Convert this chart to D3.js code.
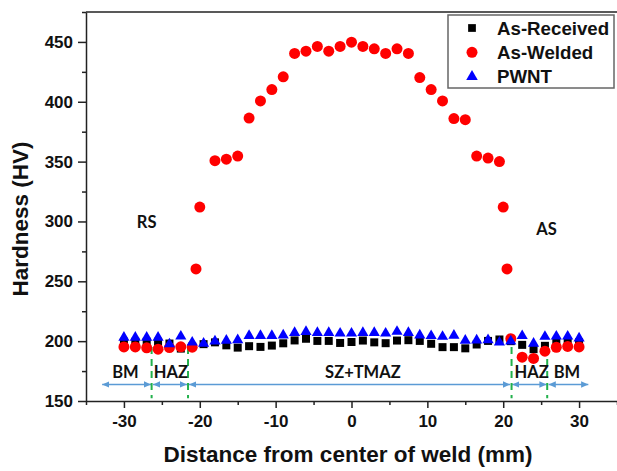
<!DOCTYPE html>
<html>
<head>
<meta charset="utf-8">
<script src="https://cdnjs.cloudflare.com/ajax/libs/d3/7.8.5/d3.min.js"></script>
<style>
body { margin: 0; background: #fff; }
svg { display: block; font-family: "Liberation Sans", Arial, sans-serif; }
</style>
</head>
<body>
<script>
// measurement positions (mm from weld centre)
var distance = [-30, -28.5, -27, -25.5, -24, -22.5, -21, -19.5, -18, -16.5, -15, -13.5, -12, -10.5, -9, -7.5, -6, -4.5, -3, -1.5,
    0, 1.5, 3, 4.5, 6, 7.5, 9, 10.5, 12, 13.5, 15, 16.5, 18, 19.5, 21, 22.5, 24, 25.5, 27, 28.5, 30];

var asReceived = [199.5, 199.5, 199.5, 199.5, 198, 193.8, 195.5, 197.5, 199, 196.5, 194.6, 195.8, 195.2, 196.3, 198.2, 200.6, 202, 200.2, 200.2, 198.5,
    199.3, 200.5, 199, 198.3, 200.5, 200.8, 200.2, 197.8, 195, 195, 194, 197.2, 200.2, 201.4, 200, 196.9, 193.3, 196.1, 199, 199, 199];

var pwnt = [203, 203, 203, 203, 197.5, 204, 199, 198, 200, 200.5, 201, 204.5, 204.5, 204.5, 205, 207, 207.8, 207, 207, 206.5,
    206.5, 207, 207, 206.5, 208, 207, 205, 204.4, 203.8, 204.8, 200.5, 200.8, 201, 199, 200, 204.4, 198, 203.8, 204, 204, 202.5];

var weldedX = [-30, -28.5, -27, -25.5, -24, -22.5, -21, -20.5, -20, -18, -16.5, -15, -13.5, -12, -10.5, -9, -7.5, -6, -4.5, -3, -1.5,
    0, 1.5, 3, 4.5, 6, 7.5, 9, 10.5, 12, 13.5, 15, 16.5, 18, 19.5, 20, 20.5, 21, 22.5, 24, 25.5, 27, 28.5, 30];
var weldedY = [195.2, 195.2, 194.4, 193.3, 194.6, 195.3, 195, 260.3, 312, 350.8, 352, 354.6, 386.4, 400.7, 410.2, 420.8, 440.4, 442.3, 446.2, 442.3, 446.2,
    449.8, 446.2, 444.2, 440.4, 444.2, 440.4, 420.2, 410.2, 400.7, 386, 385, 354.6, 353, 350, 312, 260.3, 202, 186.6, 185.6, 191.6, 194.9, 195.6, 195.2];

var xTicks = [-30, -20, -10, 0, 10, 20, 30];
var xMinor = [-35, -25, -15, -5, 5, 15, 25, 35];
var yTicks = [150, 200, 250, 300, 350, 400, 450];
var yMinor = [175, 225, 275, 325, 375, 425, 475];

// zone annotations
var zoneEdges = [-33, -26.3, -21.55, 21.05, 25.85, 31.35];
var zoneDividers = [-26.35, -21.55, 21.1, 25.8];
var zoneNames = ["BM", "HAZ", "SZ+TMAZ", "HAZ", "BM"];
var zoneLabelX = [-29.8, -23.8, 1.5, 23.75, 28.4];
var sideNames = ["RS", "AS"];
var sideX = [-27, 25.7];
var sideY = [299.8, 293.5];

var seriesNames = ["As-Received", "As-Welded", "PWNT"];
var seriesColors = ["#000000", "#ff0000", "#0000ff"];

var width = 617, height = 471;

var svg = d3.select("body").append("svg")
    .attr("width", width)
    .attr("height", height);

var x = d3.scaleLinear().domain([-35, 35]).range([86, 617]);
var y = d3.scaleLinear().domain([150, 475]).range([401, 12]);

// frame top
svg.append("line")
    .attr("x1", x(-35)).attr("x2", x(35))
    .attr("y1", y(475)).attr("y2", y(475))
    .style("stroke", "#222").style("stroke-width", 1.5);

var plainNum = (d) => String(d); // hyphen minus like the original

// x axis
svg.append("g")
    .attr("transform", "translate(0," + y(150) + ")")
    .call(d3.axisBottom(x).tickValues(xTicks).tickFormat(plainNum).tickSize(7).tickSizeOuter(0).tickPadding(7));
svg.append("g")
    .attr("transform", "translate(0," + y(150) + ")")
    .call(d3.axisBottom(x).tickValues(xMinor).tickSize(4).tickFormat("").tickSizeOuter(0))
    .select(".domain").remove();

// y axis
svg.append("g")
    .attr("transform", "translate(" + x(-35) + ",0)")
    .call(d3.axisLeft(y).tickValues(yTicks).tickFormat(plainNum).tickSize(8).tickSizeOuter(0).tickPadding(5));
svg.append("g")
    .attr("transform", "translate(" + x(-35) + ",0)")
    .call(d3.axisLeft(y).tickValues(yMinor).tickSize(4).tickFormat("").tickSizeOuter(0))
    .select(".domain").remove();

svg.selectAll(".domain, .tick line").style("stroke", "#222").style("stroke-width", 1.5);
svg.selectAll(".tick text")
    .style("font-family", "Liberation Sans, Arial, sans-serif")
    .style("font-size", "17px")
    .style("font-weight", "bold")
    .style("fill", "#111");

// axis titles
svg.append("text")
    .attr("x", 348).attr("y", 462)
    .attr("text-anchor", "middle")
    .style("font-size", "22.5px").style("font-weight", "bold").style("fill", "#111")
    .text("Distance from center of weld (mm)");

svg.append("text")
    .attr("transform", "translate(28,219) rotate(-90)")
    .attr("text-anchor", "middle")
    .style("font-size", "22.5px").style("font-weight", "bold").style("fill", "#111")
    .text("Hardness (HV)");

// zone arrows
var defs = svg.append("defs");
defs.append("marker")
    .attr("id", "arrowEnd")
    .attr("viewBox", "0 0 10 10").attr("refX", 9).attr("refY", 5)
    .attr("markerWidth", 5).attr("markerHeight", 5)
    .attr("orient", "auto")
    .append("path").attr("d", "M0,1 L9,5 L0,9 Z").style("fill", "#5b9bd5");
defs.append("marker")
    .attr("id", "arrowStart")
    .attr("viewBox", "0 0 10 10").attr("refX", 1).attr("refY", 5)
    .attr("markerWidth", 5).attr("markerHeight", 5)
    .attr("orient", "auto")
    .append("path").attr("d", "M10,1 L1,5 L10,9 Z").style("fill", "#5b9bd5");

var arrowY = 163.8;
svg.append("g").selectAll("line")
    .data(zoneNames)
    .enter()
    .append("line")
    .attr("x1", (d, i) => x(zoneEdges[i]) + 1)
    .attr("x2", (d, i) => x(zoneEdges[i + 1]) - 1)
    .attr("y1", y(arrowY)).attr("y2", y(arrowY))
    .style("stroke", "#5b9bd5")
    .style("stroke-width", 1.6)
    .attr("marker-start", "url(#arrowStart)")
    .attr("marker-end", "url(#arrowEnd)");

// green dividers
svg.append("g").selectAll("line")
    .data(zoneDividers)
    .enter()
    .append("line")
    .attr("x1", (d) => x(d)).attr("x2", (d) => x(d))
    .attr("y1", y(195.1)).attr("y2", y(152.2))
    .style("stroke", "#22b14c")
    .style("stroke-width", 2)
    .style("stroke-dasharray", "7,5");

// zone labels
svg.append("g").selectAll("text")
    .data(zoneNames)
    .enter()
    .append("text")
    .attr("x", (d, i) => x(zoneLabelX[i]))
    .attr("y", y(174.2))
    .attr("dy", ".36em")
    .attr("text-anchor", "middle")
    .style("font-family", "Lato, 'Open Sans', sans-serif")
    .style("font-size", "16.5px").style("font-weight", "bold").style("fill", "#111")
    .text((d) => d);

svg.append("g").selectAll("text")
    .data(sideNames)
    .enter()
    .append("text")
    .attr("x", (d, i) => x(sideX[i]))
    .attr("y", (d, i) => y(sideY[i]))
    .attr("dy", ".36em")
    .attr("text-anchor", "middle")
    .style("font-family", "Lato, 'Open Sans', sans-serif")
    .style("font-size", "16.5px").style("font-weight", "bold").style("fill", "#111")
    .text((d) => d);

// markers
var square = d3.symbol().type(d3.symbolSquare).size(64);
var circle = d3.symbol().type(d3.symbolCircle).size(95);
var triangle = d3.symbol().type(d3.symbolTriangle).size(54);

svg.append("g").selectAll("path")
    .data(distance)
    .enter()
    .append("path")
    .attr("d", square)
    .attr("transform", (d, i) => "translate(" + x(d) + "," + y(asReceived[i]) + ")")
    .style("fill", seriesColors[0]);

svg.append("g").selectAll("path")
    .data(weldedX)
    .enter()
    .append("path")
    .attr("d", circle)
    .attr("transform", (d, i) => "translate(" + x(d) + "," + y(weldedY[i]) + ")")
    .style("fill", seriesColors[1]);

svg.append("g").selectAll("path")
    .data(distance)
    .enter()
    .append("path")
    .attr("d", triangle)
    .attr("transform", (d, i) => "translate(" + x(d) + "," + y(pwnt[i]) + ")")
    .style("fill", seriesColors[2]);

// legend
var legend = svg.append("g");
legend.append("rect")
    .attr("x", 448).attr("y", 15)
    .attr("width", 166).attr("height", 73)
    .style("fill", "#fff")
    .style("stroke", "#666")
    .style("stroke-width", 1.5);

var legendSymbols = [d3.symbol().type(d3.symbolSquare).size(60), circle, d3.symbol().type(d3.symbolTriangle).size(58)];
var legendRows = legend.selectAll("g")
    .data(seriesNames)
    .enter()
    .append("g")
    .attr("transform", (d, i) => "translate(472," + (28 + i * 24.3) + ")");

legendRows.append("path")
    .attr("d", (d, i) => legendSymbols[i]())
    .style("fill", (d, i) => seriesColors[i]);

legendRows.append("text")
    .attr("x", 25)
    .attr("dy", ".36em")
    .style("font-size", "18.7px").style("font-weight", "bold").style("fill", "#111")
    .text((d) => d);
</script>
</body>
</html>
